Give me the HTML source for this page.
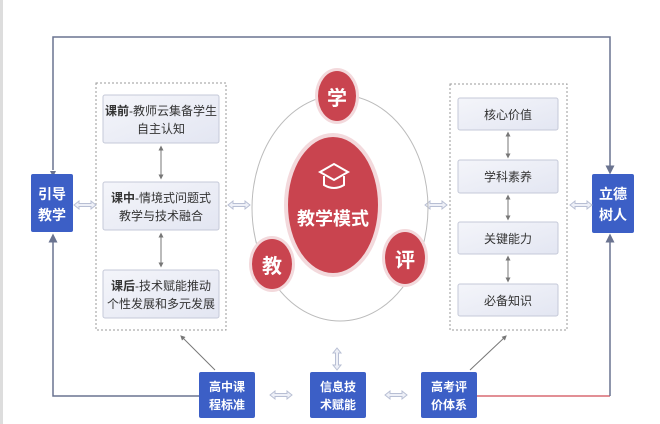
<!DOCTYPE html>
<html><head><meta charset="utf-8"><style>
html,body{margin:0;padding:0;background:#fff;}
svg{display:block;font-family:"Liberation Sans","Noto Sans CJK SC",sans-serif;}
</style></head><body>
<svg width="660" height="424" viewBox="0 0 660 424" xmlns="http://www.w3.org/2000/svg">
<defs>
<marker id="a" markerWidth="6" markerHeight="6" refX="3" refY="3" orient="auto"><path d="M0,0 L6,3 L0,6 z" fill="#6a7390"/></marker>
<marker id="s" markerWidth="5" markerHeight="5" refX="2.5" refY="2.5" orient="auto-start-reverse"><path d="M0,0 L5,2.5 L0,5 z" fill="#777"/></marker>
<linearGradient id="g" x1="0" y1="0" x2="1" y2="1"><stop offset="0" stop-color="#f4f5fa"/><stop offset="1" stop-color="#e3e6f2"/></linearGradient>
<g id="dbl"><path d="M0,0 l5,-4 v2.5 h12 v-2.5 l5,4 l-5,4 v-2.5 h-12 v2.5 z" fill="#eef0f7" stroke="#b8bfd4" stroke-width="1"/></g>
</defs>
<rect x="0" y="0" width="3" height="424" fill="#ddd"/>
<!-- outer lines -->
<path d="M53,170 V37 H610 V170" fill="none" stroke="#6a7390" stroke-width="1.5" marker-end="url(#a)"/>
<path d="M53,172 V174" stroke="none" marker-end="url(#a)"/>
<path d="M199,396 H53 V238" fill="none" stroke="#6a7390" stroke-width="1.5" marker-end="url(#a)"/>
<path d="M477,396 H610" fill="none" stroke="#d86a72" stroke-width="1.5"/>
<path d="M610,396 V238" fill="none" stroke="#6a7390" stroke-width="1.5" marker-end="url(#a)"/>
<!-- side boxes -->
<rect x="31" y="174" width="42" height="58" rx="2" fill="#3c5fc6"/>
<text x="52" y="199" font-size="14" font-weight="bold" fill="#fff" text-anchor="middle">引导</text>
<text x="52" y="220" font-size="14" font-weight="bold" fill="#fff" text-anchor="middle">教学</text>
<rect x="592" y="174" width="42" height="59" rx="2" fill="#3c5fc6"/>
<text x="613" y="199" font-size="14" font-weight="bold" fill="#fff" text-anchor="middle">立德</text>
<text x="613" y="220" font-size="14" font-weight="bold" fill="#fff" text-anchor="middle">树人</text>
<!-- panels -->
<rect x="96" y="83" width="130" height="247" fill="none" stroke="#999" stroke-dasharray="2,2"/>
<rect x="450" y="84" width="117" height="246" fill="none" stroke="#999" stroke-dasharray="2,2"/>
<g font-size="12" fill="#333" text-anchor="middle">
<rect x="103" y="95" width="116" height="48" rx="2" fill="url(#g)" stroke="#c5c9d8"/>
<text x="161" y="115"><tspan font-weight="bold">课前</tspan>-教师云集备学生</text><text x="161" y="133">自主认知</text>
<rect x="103" y="182" width="116" height="48" rx="2" fill="url(#g)" stroke="#c5c9d8"/>
<text x="161" y="202"><tspan font-weight="bold">课中</tspan>-情境式问题式</text><text x="161" y="220">教学与技术融合</text>
<rect x="103" y="270" width="116" height="48" rx="2" fill="url(#g)" stroke="#c5c9d8"/>
<text x="161" y="290"><tspan font-weight="bold">课后</tspan>-技术赋能推动</text><text x="161" y="308">个性发展和多元发展</text>
<rect x="458" y="98" width="100" height="32" rx="2" fill="url(#g)" stroke="#c5c9d8"/><text x="508" y="119">核心价值</text>
<rect x="458" y="160" width="100" height="33" rx="2" fill="url(#g)" stroke="#c5c9d8"/><text x="508" y="181">学科素养</text>
<rect x="458" y="222" width="100" height="32" rx="2" fill="url(#g)" stroke="#c5c9d8"/><text x="508" y="243">关键能力</text>
<rect x="458" y="284" width="100" height="32" rx="2" fill="url(#g)" stroke="#c5c9d8"/><text x="508" y="305">必备知识</text>
</g>
<g stroke="#777" stroke-width="1">
<line x1="161" y1="148" x2="161" y2="177" marker-start="url(#s)" marker-end="url(#s)"/>
<line x1="161" y1="235" x2="161" y2="265" marker-start="url(#s)" marker-end="url(#s)"/>
<line x1="508" y1="134" x2="508" y2="156" marker-start="url(#s)" marker-end="url(#s)"/>
<line x1="508" y1="197" x2="508" y2="218" marker-start="url(#s)" marker-end="url(#s)"/>
<line x1="508" y1="258" x2="508" y2="280" marker-start="url(#s)" marker-end="url(#s)"/>
<line x1="215" y1="370" x2="182" y2="337" marker-end="url(#s)"/>
<line x1="470" y1="370" x2="505" y2="337" marker-end="url(#s)"/>
</g>
<!-- double arrows -->
<use href="#dbl" x="74" y="205"/>
<use href="#dbl" x="228" y="205"/>
<use href="#dbl" x="425" y="205"/>
<use href="#dbl" x="570" y="205"/>
<use href="#dbl" x="270" y="395"/>
<use href="#dbl" x="385" y="395"/>
<use href="#dbl" x="0" y="0" transform="translate(337,370) rotate(-90)"/>
<!-- center -->
<ellipse cx="340" cy="208" rx="88" ry="113" fill="none" stroke="#bbb" stroke-width="1"/>
<ellipse cx="333" cy="205" rx="49" ry="72" fill="#f3d9dc"/>
<ellipse cx="333" cy="205" rx="45" ry="68" fill="#c9444f"/>
<g fill="none" stroke="#fff" stroke-width="2">
<path d="M320,172 L334,164 L348,172 L334,180 Z"/><path d="M324,176 v9 q10,6 20,0 v-9"/>
</g>
<text x="333" y="225" font-size="18" font-weight="bold" fill="#fff" text-anchor="middle">教学模式</text>
<ellipse cx="337" cy="96" rx="22" ry="28" fill="#f3d9dc"/><ellipse cx="337" cy="96" rx="19" ry="25" fill="#c9444f"/>
<text x="337" y="105" font-size="20" font-weight="bold" fill="#fff" text-anchor="middle">学</text>
<ellipse cx="272" cy="264" rx="23" ry="28" fill="#f3d9dc"/><ellipse cx="272" cy="264" rx="20" ry="25" fill="#c9444f"/>
<text x="272" y="273" font-size="20" font-weight="bold" fill="#fff" text-anchor="middle">教</text>
<ellipse cx="405" cy="258" rx="23" ry="29" fill="#f3d9dc"/><ellipse cx="405" cy="258" rx="20" ry="26" fill="#c9444f"/>
<text x="405" y="267" font-size="20" font-weight="bold" fill="#fff" text-anchor="middle">评</text>
<!-- bottom boxes -->
<g font-size="12" font-weight="bold" fill="#fff" text-anchor="middle">
<rect x="199" y="372" width="56" height="46" rx="2" fill="#3c5fc6"/><text x="227" y="391">高中课</text><text x="227" y="409">程标准</text>
<rect x="310" y="372" width="56" height="46" rx="2" fill="#3c5fc6"/><text x="338" y="391">信息技</text><text x="338" y="409">术赋能</text>
<rect x="421" y="372" width="56" height="46" rx="2" fill="#3c5fc6"/><text x="449" y="391">高考评</text><text x="449" y="409">价体系</text>
</g>
</svg>
</body></html>
